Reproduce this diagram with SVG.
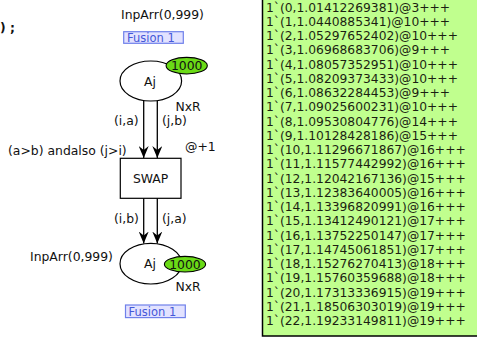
<svg xmlns="http://www.w3.org/2000/svg" width="477" height="339" viewBox="0 0 477 339">
  <style>
    text { font-family: "DejaVu Sans", Verdana, sans-serif; font-size: 12.4px; fill: #111; }
    .place { fill: #fff; stroke: #000; stroke-width: 1.2; }
    .trans { fill: #fff; stroke: #000; stroke-width: 1.2; }
    .token { fill: #6ada16; stroke: #000; stroke-width: 1.1; }
    .fusion { fill: #e2e2ff; stroke: #6f80ea; stroke-width: 1.2; }
    .fusion-text { fill: #4558d8; font-size: 11.5px; }
    .arc { stroke: #000; stroke-width: 1.3; fill: none; marker-end: url(#head); }
    .mark { fill: #c0ff8e; stroke: #000; stroke-width: 1.5; }
    .mark-text { fill: #1b1f12; font-size: 12.3px; }
    .mid { text-anchor: middle; }
  </style>
  <defs>
    <marker id="head" viewBox="0 0 12 10" refX="12" refY="5" markerWidth="12" markerHeight="10" markerUnits="userSpaceOnUse" orient="auto">
      <path d="M0,0 L12,5 L0,10 L4,5 Z" fill="#000"/>
    </marker>
  </defs>

  <!-- tail of the declaration text at the left edge -->
  <text x="0" y="32" font-weight="bold">) ;</text>

  <!-- connectors -->
  <g id="arcs">
    <line class="arc" x1="143.7" y1="100" x2="143.7" y2="158"/>
    <line class="arc" x1="157.3" y1="100" x2="157.3" y2="158"/>
    <line class="arc" x1="143.7" y1="198" x2="143.7" y2="243.5"/>
    <line class="arc" x1="157.3" y1="198" x2="157.3" y2="243.5"/>
    <text x="114" y="125">(i,a)</text>
    <text x="162" y="125">(j,b)</text>
    <text x="114" y="222.5">(i,b)</text>
    <text x="162" y="222.5">(j,a)</text>
  </g>

  <!-- input place -->
  <g id="place-top">
    <text x="121" y="18.5">InpArr(0,999)</text>
    <rect class="fusion" x="123.7" y="31.7" width="59.6" height="11.6"/>
    <text class="fusion-text" x="127" y="41.8">Fusion 1</text>
    <ellipse class="place" cx="150.8" cy="81" rx="30.8" ry="20"/>
    <text class="mid" x="150" y="86">Aj</text>
    <ellipse class="token" cx="186.7" cy="65.7" rx="20.6" ry="8.3"/>
    <text class="mid" x="186.7" y="70">1000</text>
    <text x="175.5" y="110.5">NxR</text>
  </g>

  <!-- transition -->
  <g id="swap">
    <text x="8" y="154.5">(a&gt;b) andalso (j&gt;i)</text>
    <text x="185" y="151">@+1</text>
    <rect class="trans" x="120.3" y="158.3" width="60.7" height="40"/>
    <text class="mid" x="150.6" y="182.5">SWAP</text>
  </g>

  <!-- output place -->
  <g id="place-bottom">
    <text x="30" y="261">InpArr(0,999)</text>
    <ellipse class="place" cx="150.8" cy="263.7" rx="30.8" ry="20.3"/>
    <text class="mid" x="150" y="268">Aj</text>
    <ellipse class="token" cx="185" cy="264.2" rx="20.6" ry="7.8"/>
    <text class="mid" x="185" y="268.5">1000</text>
    <text x="175.5" y="291">NxR</text>
    <rect class="fusion" x="125.5" y="305" width="59.8" height="12.6"/>
    <text class="fusion-text" x="128.5" y="315.5">Fusion 1</text>
  </g>

  <!-- current marking of the place -->
  <g id="marking">
    <rect class="mark" x="262.5" y="-2" width="220" height="338"/>
    <text class="mark-text" x="266" y="11.5">1`(0,1.01412269381)@3+++</text>
    <text class="mark-text" x="266" y="25.75">1`(1,1.0440885341)@10+++</text>
    <text class="mark-text" x="266" y="40">1`(2,1.05297652402)@10+++</text>
    <text class="mark-text" x="266" y="54.25">1`(3,1.06968683706)@9+++</text>
    <text class="mark-text" x="266" y="68.5">1`(4,1.08057352951)@10+++</text>
    <text class="mark-text" x="266" y="82.75">1`(5,1.08209373433)@10+++</text>
    <text class="mark-text" x="266" y="97">1`(6,1.08632284453)@9+++</text>
    <text class="mark-text" x="266" y="111.25">1`(7,1.09025600231)@10+++</text>
    <text class="mark-text" x="266" y="125.5">1`(8,1.09530804776)@14+++</text>
    <text class="mark-text" x="266" y="139.75">1`(9,1.10128428186)@15+++</text>
    <text class="mark-text" x="266" y="154">1`(10,1.11296671867)@16+++</text>
    <text class="mark-text" x="266" y="168.25">1`(11,1.11577442992)@16+++</text>
    <text class="mark-text" x="266" y="182.5">1`(12,1.12042167136)@15+++</text>
    <text class="mark-text" x="266" y="196.75">1`(13,1.12383640005)@16+++</text>
    <text class="mark-text" x="266" y="211">1`(14,1.13396820991)@16+++</text>
    <text class="mark-text" x="266" y="225.25">1`(15,1.13412490121)@17+++</text>
    <text class="mark-text" x="266" y="239.5">1`(16,1.13752250147)@17+++</text>
    <text class="mark-text" x="266" y="253.75">1`(17,1.14745061851)@17+++</text>
    <text class="mark-text" x="266" y="268">1`(18,1.15276270413)@18+++</text>
    <text class="mark-text" x="266" y="282.25">1`(19,1.15760359688)@18+++</text>
    <text class="mark-text" x="266" y="296.5">1`(20,1.17313336915)@19+++</text>
    <text class="mark-text" x="266" y="310.75">1`(21,1.18506303019)@19+++</text>
    <text class="mark-text" x="266" y="325">1`(22,1.19233149811)@19+++</text>
  </g>
</svg>
